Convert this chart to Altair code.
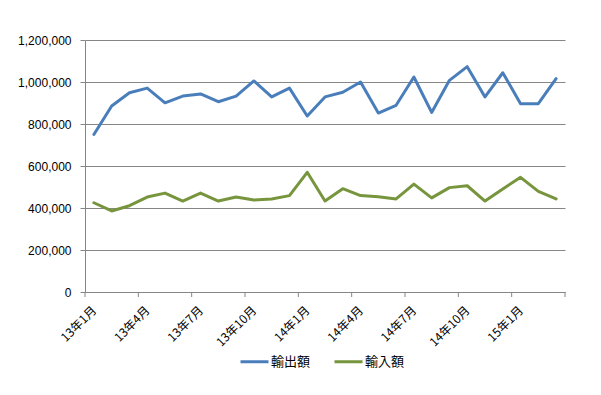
import json
import altair as alt
import pandas as pd

months = ["13年1月", "13年2月", "13年3月", "13年4月", "13年5月", "13年6月", "13年7月", "13年8月", "13年9月",
          "13年10月", "13年11月", "13年12月", "14年1月", "14年2月", "14年3月", "14年4月", "14年5月", "14年6月",
          "14年7月", "14年8月", "14年9月", "14年10月", "14年11月", "14年12月", "15年1月", "15年2月", "15年3月"]
exports = [750000, 886000, 949000, 971000, 901000, 933000, 943000, 906000, 933000,
           1005000, 929000, 971000, 838000, 929000, 951000, 1000000, 852000, 889000,
           1024000, 855000, 1008000, 1073000, 929000, 1044000, 897000, 897000, 1016000]
imports = [425000, 386000, 411000, 452000, 471000, 433000, 471000, 433000, 452000,
           438000, 443000, 459000, 570000, 433000, 492000, 459000, 454000, 443000,
           514000, 448000, 497000, 506000, 433000, 491000, 546000, 479000, 443000]
series_names = ["輸出額", "輸入額"]
series_colors = ["#4A7EBB", "#77953D"]

rows = []
for i, m in enumerate(months):
    rows.append({"pos": i + 0.5, "month": m, "series": series_names[0], "value": exports[i]})
    rows.append({"pos": i + 0.5, "month": m, "series": series_names[1], "value": imports[i]})
df = pd.DataFrame(rows)

n = len(months)
label_vals = [i + 0.5 for i in range(0, n, 3)]
label_expr = json.dumps(months, ensure_ascii=False) + "[floor(datum.value)]"
ticks_df = pd.DataFrame({"b": list(range(0, n + 1, 3))})

GRID = "#868686"
xscale = alt.Scale(domain=[0, n], nice=False, zero=False)

lines = alt.Chart(df).mark_line(strokeWidth=3, strokeCap="round", strokeJoin="round").encode(
    x=alt.X("pos:Q", scale=xscale,
            axis=alt.Axis(values=label_vals, labelExpr=label_expr, title=None, grid=False,
                          ticks=False, labelAngle=-45, labelAlign="right", labelBaseline="middle",
                          labelPadding=16, labelFont="Noto Sans CJK JP", labelFontSize=12,
                          labelColor="#000000", domainColor=GRID, labelOverlap=False,
                          labelBound=False, labelFlush=False)),
    y=alt.Y("value:Q", scale=alt.Scale(domain=[0, 1200000], nice=False),
            axis=alt.Axis(values=[0, 200000, 400000, 600000, 800000, 1000000, 1200000],
                          format=",d", title=None, gridColor=GRID, gridOpacity=1, domainColor=GRID,
                          tickColor=GRID, tickSize=5, labelPadding=9, labelFont="Liberation Sans",
                          labelFontSize=12, labelColor="#000000")),
    color=alt.Color("series:N", sort=series_names,
                    scale=alt.Scale(domain=series_names, range=series_colors),
                    legend=alt.Legend(title=None, orient="none", direction="horizontal",
                                      legendX=154, legendY=306, symbolType="stroke",
                                      symbolSize=784, symbolStrokeWidth=3, labelOffset=1,
                                      columnPadding=17, labelFont="Noto Sans CJK JP",
                                      labelFontSize=13, labelColor="#000000")),
    detail="series:N",
)

xticks = alt.Chart(ticks_df).mark_rule(color=GRID, strokeWidth=1).encode(
    x=alt.X("b:Q", scale=xscale),
    y=alt.value(252),
    y2=alt.value(257),
)

chart = alt.layer(lines, xticks).properties(
    width=480, height=252,
    autosize=alt.AutoSizeParams(type="none"),
    padding={"left": 77, "top": 32, "right": 28, "bottom": 95},
    background="#ffffff",
).configure_view(stroke=None)

chart.save("out.html", embed_options={"renderer": "svg", "actions": False})
